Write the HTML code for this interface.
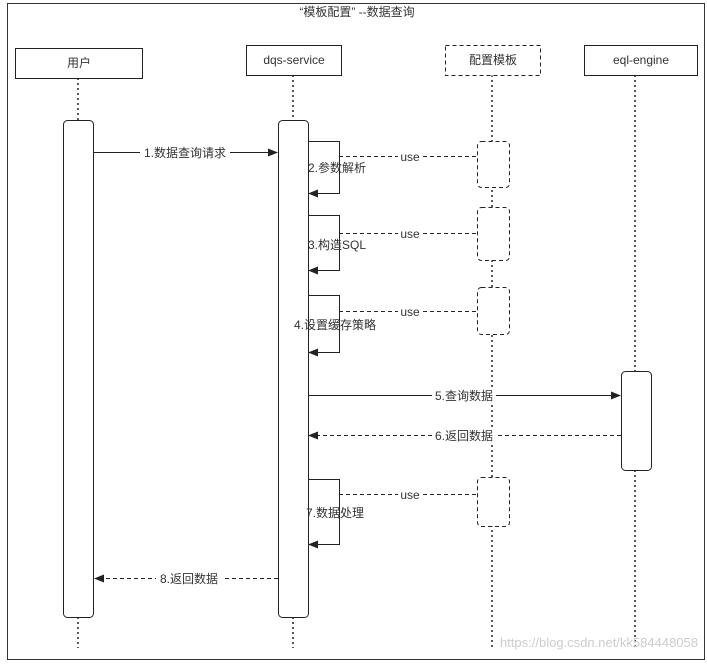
<!DOCTYPE html>
<html><head><meta charset="utf-8"><style>
body{margin:0;background:#fff}
text{font-family:"Liberation Sans","Noto Sans CJK SC",sans-serif;font-size:12px;fill:#333}
</style></head><body>
<svg width="707" height="662" viewBox="0 0 707 662" xmlns="http://www.w3.org/2000/svg">
<defs><marker id="a" markerWidth="10" markerHeight="8" refX="9" refY="4" orient="auto" markerUnits="userSpaceOnUse"><path d="M0,0 L10,4 L0,8 Z" fill="#222"/></marker></defs>
<rect x="0" y="0" width="707" height="662" fill="#fff"/>
<rect x="7.5" y="3.5" width="697" height="656" fill="none" stroke="#333"/>
<text x="357" y="16" text-anchor="middle">“模板配置” --数据查询</text>
<g stroke="#222" stroke-dasharray="2,3" stroke-width="1.5">
<line x1="78" y1="78" x2="78" y2="120"/><line x1="78" y1="617" x2="78" y2="648"/>
<line x1="293" y1="75" x2="293" y2="120"/><line x1="293" y1="617" x2="293" y2="648"/>
<line x1="492" y1="75" x2="492" y2="648"/>
<line x1="635" y1="75" x2="635" y2="371"/><line x1="635" y1="470" x2="635" y2="648"/>
</g>
<g fill="#fff" stroke="#222">
<rect x="15.5" y="48.5" width="127" height="30"/>
<rect x="246.5" y="45.5" width="95" height="30"/>
<rect x="445.5" y="45.5" width="95" height="30" stroke-dasharray="4,3"/>
<rect x="584.5" y="45.5" width="113" height="30"/>
<rect x="63.5" y="120.5" width="30" height="497" rx="4"/>
<rect x="278.5" y="120.5" width="30" height="497" rx="4"/>
<rect x="621.5" y="371.5" width="30" height="99" rx="4"/>
<g stroke-dasharray="4,3">
<rect x="477.5" y="141.5" width="32" height="46" rx="4"/>
<rect x="477.5" y="207.5" width="32" height="53" rx="4"/>
<rect x="477.5" y="287.5" width="32" height="47" rx="4"/>
<rect x="477.5" y="477.5" width="32" height="49" rx="4"/>
</g></g>
<text x="79" y="67" text-anchor="middle">用户</text>
<text x="294" y="64" text-anchor="middle">dqs-service</text>
<text x="493" y="64" text-anchor="middle">配置模板</text>
<text x="641" y="64" text-anchor="middle">eql-engine</text>
<g fill="none" stroke="#222">
<line x1="93" y1="152.5" x2="277" y2="152.5" marker-end="url(#a)"/>
<path d="M308,141.5 H339.5 V193.5 H309" marker-end="url(#a)"/>
<path d="M308,215.5 H339.5 V270.5 H309" marker-end="url(#a)"/>
<path d="M308,295.5 H339.5 V352.5 H309" marker-end="url(#a)"/>
<path d="M308,479.5 H339.5 V544.5 H309" marker-end="url(#a)"/>
<line x1="308" y1="395.5" x2="620" y2="395.5" marker-end="url(#a)"/>
<g stroke-dasharray="4,3">
<line x1="339" y1="156.5" x2="477" y2="156.5"/>
<line x1="339" y1="233.5" x2="477" y2="233.5"/>
<line x1="339" y1="311.5" x2="477" y2="311.5"/>
<line x1="339" y1="494.5" x2="477" y2="494.5"/>
<line x1="621" y1="435.5" x2="309" y2="435.5" marker-end="url(#a)"/>
<line x1="278" y1="578.5" x2="95" y2="578.5" marker-end="url(#a)"/>
</g></g>
<g>
<rect x="140" y="145" width="90" height="15" fill="#fff"/><text x="185" y="157" text-anchor="middle">1.数据查询请求</text>
<rect x="398" y="150" width="24" height="13" fill="#fff"/><text x="410" y="161" text-anchor="middle">use</text>
<rect x="398" y="227" width="24" height="13" fill="#fff"/><text x="410" y="238" text-anchor="middle">use</text>
<rect x="398" y="305" width="24" height="13" fill="#fff"/><text x="410" y="316" text-anchor="middle">use</text>
<rect x="398" y="488" width="24" height="13" fill="#fff"/><text x="410" y="499" text-anchor="middle">use</text>
<text x="308" y="172">2.参数解析</text>
<text x="308" y="249">3.构造SQL</text>
<text x="294" y="329">4.设置缓存策略</text>
<text x="306" y="517">7.数据处理</text>
<rect x="432" y="388" width="64" height="15" fill="#fff"/><text x="464" y="400" text-anchor="middle">5.查询数据</text>
<rect x="432" y="428" width="64" height="15" fill="#fff"/><text x="464" y="440" text-anchor="middle">6.返回数据</text>
<rect x="156" y="571" width="66" height="15" fill="#fff"/><text x="189" y="583" text-anchor="middle">8.返回数据</text>
<text x="698" y="647" text-anchor="end" style="fill:#ccc;font-size:13px">https://blog.csdn.net/kk584448058</text>
</g>
</svg>
</body></html>
